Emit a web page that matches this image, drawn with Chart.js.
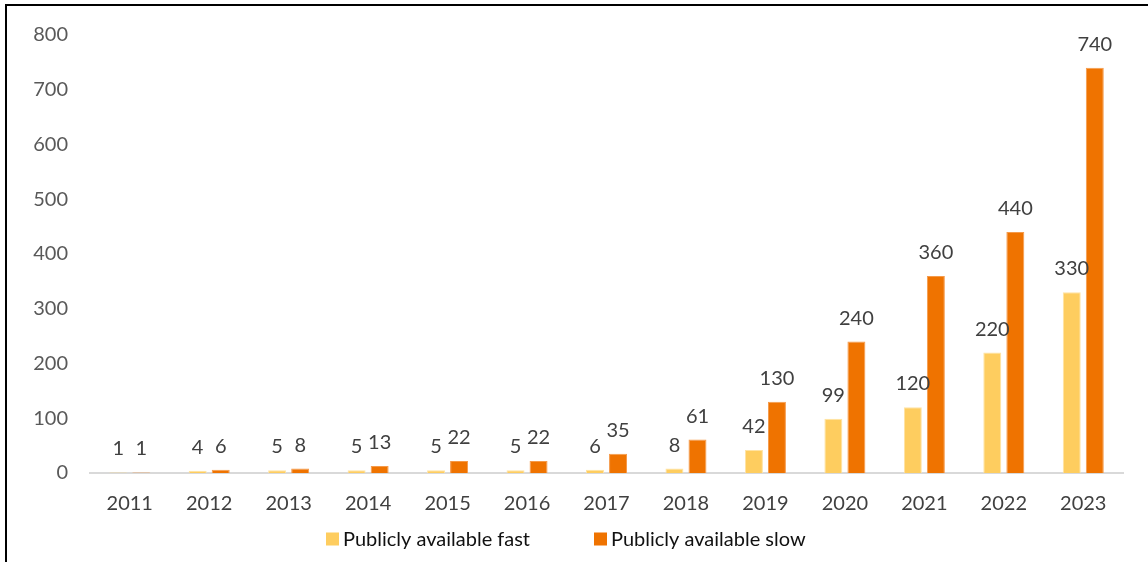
<!DOCTYPE html>
<html>
<head>
<meta charset="utf-8">
<script src="https://cdn.jsdelivr.net/npm/chart.js@4.4.0/dist/chart.umd.min.js"></script>
<style>
  html, body { margin: 0; padding: 0; background: #fff; }
  #wrap { position: relative; width: 1148px; height: 562px; overflow: hidden; }
  #frame { position: absolute; left: 5px; top: 4px; right: -4px; bottom: -4px;
           border-top: 2px solid #000; border-left: 2px solid #000; pointer-events: none; }
  canvas { position: absolute; left: 0; top: 0; }
</style>
</head>
<body>
<div id="wrap">
  <canvas id="chart" width="1148" height="562"></canvas>
  <div id="frame"></div>
</div>
<script>
// Years on the category axis
const years = ['2011','2012','2013','2014','2015','2016','2017','2018','2019','2020','2021','2022','2023'];
// Series values
const fastValues = [1, 4, 5, 5, 5, 5, 6, 8, 42, 99, 120, 220, 330];
const slowValues = [1, 6, 8, 13, 22, 22, 35, 61, 130, 240, 360, 440, 740];
// Series names
const seriesNames = ['Publicly available fast', 'Publicly available slow'];
// Value axis ticks
const yTicks = [0, 100, 200, 300, 400, 500, 600, 700, 800];

const FONT = 'Lato, "Open Sans", sans-serif';
const fastColor = '#FECD5F';
const slowColor = '#EF7300';

// Writes each bar's value just above it
const valueLabels = {
  id: 'valueLabels',
  afterDatasetsDraw(chart) {
    const ctx = chart.ctx;
    ctx.save();
    ctx.font = '20px ' + FONT;
    ctx.fillStyle = '#404040';
    ctx.textAlign = 'center';
    ctx.textBaseline = 'alphabetic';
    chart.data.datasets.forEach((ds, i) => {
      chart.getDatasetMeta(i).data.forEach((bar, j) => {
        ctx.fillText(String(ds.data[j]), bar.x, bar.y - 17);
      });
    });
    ctx.restore();
  }
};

// Legend row under the axis labels
const bottomLegend = {
  id: 'bottomLegend',
  afterDraw(chart, args, opts) {
    const ctx = chart.ctx;
    ctx.save();
    ctx.font = '20px ' + FONT;
    ctx.textBaseline = 'middle';
    ctx.textAlign = 'left';
    chart.data.datasets.forEach((ds, i) => {
      const x = opts.starts[i];
      const y = opts.y;
      ctx.fillStyle = ds.backgroundColor;
      ctx.fillRect(x, y - 6.5, 13, 13);
      ctx.fillStyle = '#111';
      ctx.fillText(ds.label, x + 17, y + 1);
    });
    ctx.restore();
  }
};

new Chart(document.getElementById('chart'), {
  type: 'bar',
  data: {
    labels: years,
    datasets: [
      { label: seriesNames[0], data: fastValues, backgroundColor: fastColor,
        borderColor: '#FFE3A3', borderWidth: 1 },
      { label: seriesNames[1], data: slowValues, backgroundColor: slowColor,
        borderColor: '#F59A4A', borderWidth: 1 }
    ]
  },
  options: {
    responsive: false,
    animation: false,
    events: [],
    layout: { padding: { top: 35, right: 25, left: 0, bottom: 0 } },
    categoryPercentage: 0.58,
    barPercentage: 0.78,
    scales: {
      x: {
        grid: { display: false, drawTicks: false },
        border: { display: true, color: '#D9D9D9', width: 2 },
        ticks: { color: '#404040', font: { family: FONT, size: 20 }, padding: 19, maxRotation: 0 },
        afterFit(scale) { scale.height = 89; }
      },
      y: {
        min: yTicks[0],
        max: yTicks[yTicks.length - 1],
        afterBuildTicks(scale) { scale.ticks = yTicks.map(v => ({ value: v })); },
        grid: { display: false, drawTicks: false },
        border: { display: false },
        ticks: { color: '#595959', font: { family: FONT, size: 20 }, padding: 22 },
        afterFit(scale) { scale.width = 90; }
      }
    },
    plugins: {
      legend: { display: false },
      tooltip: { enabled: false },
      bottomLegend: { starts: [326, 594], y: 539 }
    }
  },
  plugins: [valueLabels, bottomLegend]
});
</script>
</body>
</html>
